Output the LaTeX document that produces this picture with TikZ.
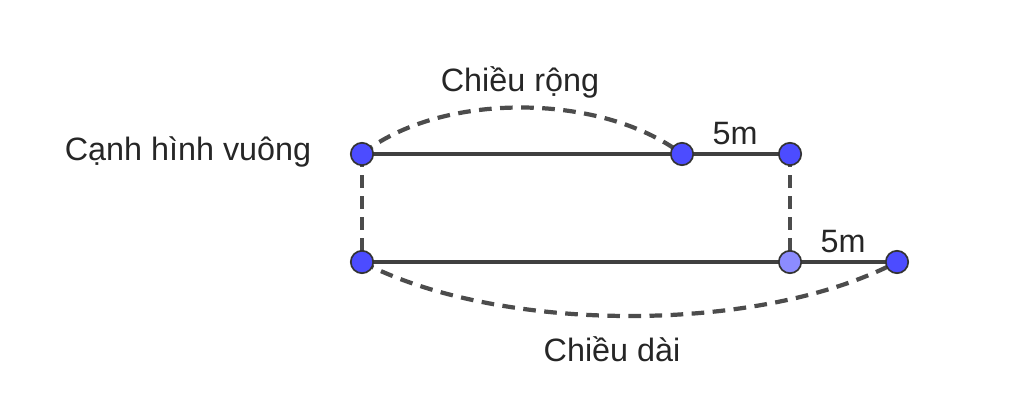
\documentclass[tikz,border=0pt]{standalone}
\usepackage{fontspec}
\setmainfont{Liberation Sans}
\tikzset{
  pt/.style={circle,draw=black!80,line width=1.2pt,fill=blue!70!white,inner sep=0pt,minimum size=0.56cm},
  ptlight/.style={pt,fill=blue!45!white},
  side/.style={line width=2.8pt,draw=black!75},
  guide/.style={line width=3pt,draw=black!70,dash pattern=on 9pt off 6pt},
  lbl/.style={font=\fontsize{23}{27}\selectfont,text=black!85}
}
\begin{document}
\begin{tikzpicture}[x=0.025cm,y=-0.025cm]
  \useasboundingbox (0,0) rectangle (1024,419);

  % points
  \coordinate (a) at (362,154);
  \coordinate (b) at (682,154);
  \coordinate (c) at (790,154);
  \coordinate (d) at (362,262);
  \coordinate (e) at (790,262);
  \coordinate (f) at (897,262);

  \draw[side] (a) -- (c);
  \draw[side] (d) -- (f);
  \draw[guide] (a) -- (d);
  \draw[guide] (c) -- (e);
  \draw[guide] (a) .. controls (440,92) and (600,92) .. (b);
  \draw[guide] (d) .. controls (500,334) and (760,334) .. (f);

  \node[pt] (na) at (a) {};
  \node[pt] (nb) at (b) {};
  \node[pt] (nc) at (c) {};
  \node[pt] (nd) at (d) {};
  \node[ptlight] (ne) at (e) {};
  \node[pt] (nf) at (f) {};

  % labels
  \node[lbl] (rong) at (520,82) {Chiều rộng};
  \node[lbl] (top5) at (735,134) {5m};
  \node[lbl] (canh) at (188,152) {Cạnh hình vuông};
  \node[lbl] (bot5) at (843,242) {5m};
  \node[lbl] (dai) at (612,349) {Chiều dài};
\end{tikzpicture}
\end{document}
